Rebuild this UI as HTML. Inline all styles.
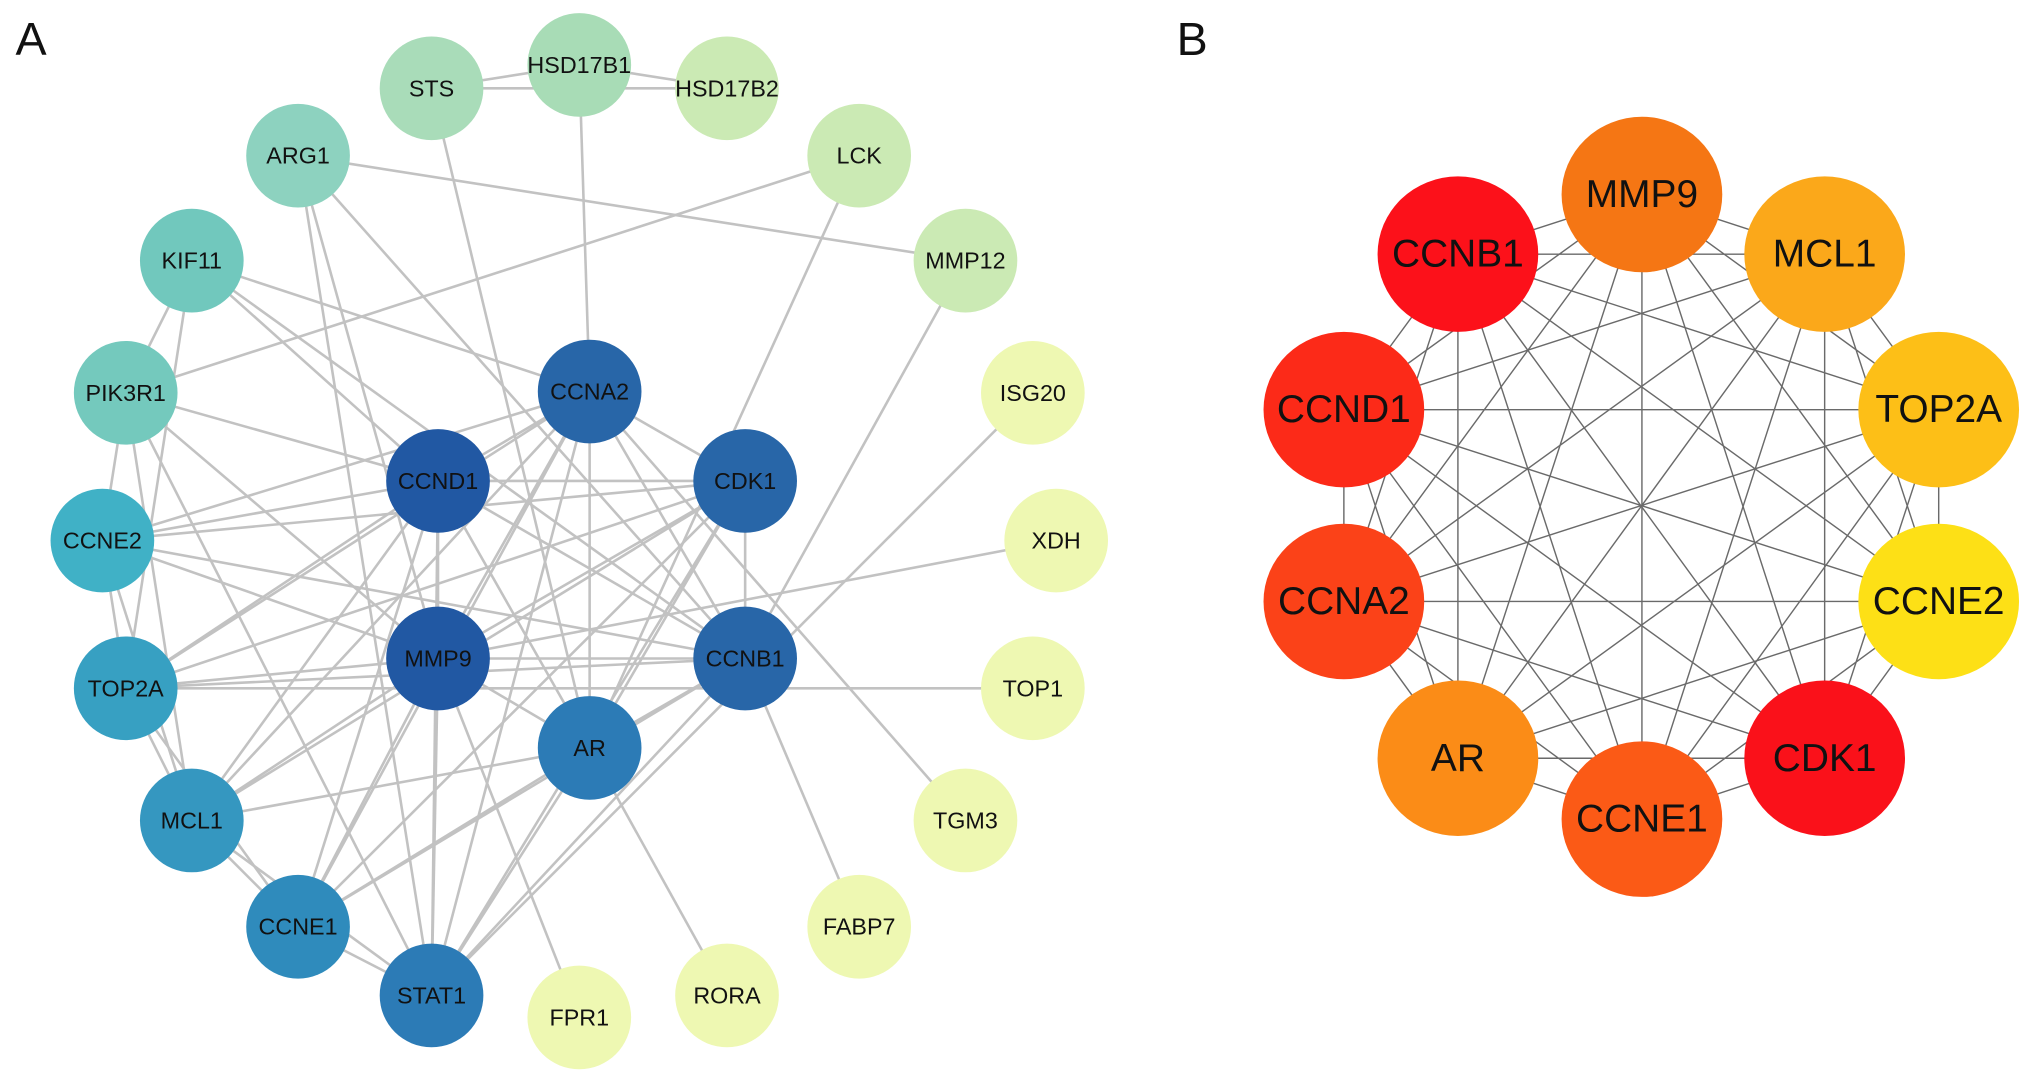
<!DOCTYPE html>
<html><head><meta charset="utf-8"><style>
html,body{margin:0;padding:0;background:#fff;}
svg{display:block;}
text{font-family:"Liberation Sans",Arial,sans-serif;text-anchor:middle;dominant-baseline:central;fill:#111;}
.a{font-size:18px;}
.b{font-size:30px;}
</style></head><body>
<svg id="s" width="2032" height="1085" viewBox="0 0 1568 837" xmlns="http://www.w3.org/2000/svg">
<rect width="1568" height="837" fill="#fff"/>
<g id="ea" stroke="#b8b8b8" stroke-width="2" opacity="0.85"></g>
<g id="eb" stroke="#6a6a6a" stroke-width="1.1"></g>
<g id="na"></g>
<g id="nb"></g>
<text x="24" y="30" style="font-size:36px">A</text>
<text x="920" y="30" style="font-size:36px">B</text>
<g class="a">
<text x="333" y="68">STS</text><text x="447" y="50">HSD17B1</text><text x="561" y="68">HSD17B2</text>
<text x="230" y="120">ARG1</text><text x="663" y="120">LCK</text><text x="148" y="201">KIF11</text>
<text x="745" y="201">MMP12</text><text x="97" y="303">PIK3R1</text><text x="797" y="303">ISG20</text>
<text x="79" y="417">CCNE2</text><text x="815" y="417">XDH</text><text x="97" y="531">TOP2A</text>
<text x="797" y="531">TOP1</text><text x="148" y="633">MCL1</text><text x="745" y="633">TGM3</text>
<text x="230" y="715">CCNE1</text><text x="663" y="715">FABP7</text><text x="333" y="768">STAT1</text>
<text x="447" y="785">FPR1</text><text x="561" y="768">RORA</text>
<text x="455" y="302">CCNA2</text><text x="338" y="371">CCND1</text><text x="575" y="371">CDK1</text>
<text x="338" y="508">MMP9</text><text x="575" y="508">CCNB1</text><text x="455" y="577">AR</text>
</g>
<g class="b">
<text x="1267" y="150">MMP9</text><text x="1408" y="196">MCL1</text><text x="1496" y="316">TOP2A</text>
<text x="1496" y="464">CCNE2</text><text x="1408" y="585">CDK1</text><text x="1267" y="632">CCNE1</text>
<text x="1125" y="585">AR</text><text x="1037" y="464">CCNA2</text><text x="1037" y="316">CCND1</text>
<text x="1125" y="196">CCNB1</text>
</g>
</svg>
<script>
var NS="http://www.w3.org/2000/svg";
var A={STS:[333,68,"#a9dcb9"],HSD17B1:[447,50,"#a8dcb6"],HSD17B2:[561,68,"#cbeab4"],ARG1:[230,120,"#8dd2bf"],LCK:[663,120,"#cbeab4"],KIF11:[148,201,"#71c8bd"],MMP12:[745,201,"#cbeab4"],PIK3R1:[97,303,"#74c9bd"],ISG20:[797,303,"#eef8b2"],CCNE2:[79,417,"#40b1c6"],XDH:[815,417,"#eef8b2"],TOP2A:[97,531,"#37a0c2"],TOP1:[797,531,"#eef8b2"],MCL1:[148,633,"#3597c0"],TGM3:[745,633,"#eef8b2"],CCNE1:[230,715,"#2f8bbc"],FABP7:[663,715,"#eef8b2"],STAT1:[333,768,"#2c7bb6"],FPR1:[447,785,"#eef8b2"],RORA:[561,768,"#eef8b2"],CCNA2:[455,302,"#2866a8"],CCND1:[338,371,"#2158a3"],CDK1:[575,371,"#2866a8"],MMP9:[338,508,"#2158a3"],CCNB1:[575,508,"#2866a8"],AR:[455,577,"#2c7bb6"]};
var EA="STS-HSD17B1 STS-HSD17B2 HSD17B1-HSD17B2 HSD17B1-CCNA2 STS-AR ARG1-MMP12 ARG1-CCNB1 ARG1-STAT1 ARG1-MMP9 LCK-PIK3R1 LCK-AR MMP12-CCNB1 KIF11-CCNA2 KIF11-CCNB1 KIF11-CCND1 KIF11-PIK3R1 KIF11-TOP2A PIK3R1-CCND1 PIK3R1-MMP9 PIK3R1-STAT1 PIK3R1-CCNE2 PIK3R1-MCL1 CCNE2-CCNA2 CCNE2-CCND1 CCNE2-CDK1 CCNE2-CCNB1 CCNE2-MMP9 CCNE2-TOP2A CCNE2-MCL1 TOP2A-CCND1 TOP2A-CCNA2 TOP2A-CCNB1 TOP2A-MMP9 TOP2A-CDK1 TOP2A-MCL1 TOP2A-CCNE1 TOP2A-TOP1 MCL1-CCND1 MCL1-CCNA2 MCL1-CDK1 MCL1-AR MCL1-CCNE1 MCL1-STAT1 MCL1-MMP9 CCNE1-CCND1 CCNE1-CCNA2 CCNE1-CDK1 CCNE1-CCNB1 CCNE1-MMP9 CCNE1-AR CCNE1-STAT1 STAT1-MMP9 STAT1-AR STAT1-CCNB1 STAT1-CDK1 STAT1-CCNA2 STAT1-CCND1 FPR1-MMP9 AR-RORA FABP7-CCNB1 TGM3-CCNA2 ISG20-STAT1 XDH-MMP9 CCNA2-CCND1 CCNA2-CDK1 CCNA2-MMP9 CCNA2-CCNB1 CCNA2-AR CCND1-CDK1 CCND1-MMP9 CCND1-CCNB1 CCND1-AR CDK1-MMP9 CDK1-CCNB1 CDK1-AR MMP9-CCNB1 MMP9-AR CCNB1-AR".split(" ");
function ln(g,a,b){var l=document.createElementNS(NS,"line");l.setAttribute("x1",a[0]);l.setAttribute("y1",a[1]);l.setAttribute("x2",b[0]);l.setAttribute("y2",b[1]);g.appendChild(l);}
var ea=document.getElementById("ea");
EA.forEach(function(e){var p=e.split("-");ln(ea,A[p[0]],A[p[1]]);});
var na=document.getElementById("na");
for(var k in A){var c=document.createElementNS(NS,"circle");c.setAttribute("cx",A[k][0]);c.setAttribute("cy",A[k][1]);c.setAttribute("r",40);c.setAttribute("fill",A[k][2]);na.appendChild(c);}
var B=[[1267,150,"#f57614"],[1408,196,"#fba81a"],[1496,316,"#fdbf17"],[1496,464,"#fde016"],[1408,585,"#fa111a"],[1267,632,"#fb5a16"],[1125,585,"#fb8c17"],[1037,464,"#fb4218"],[1037,316,"#fc2a18"],[1125,196,"#fc111a"]];
var eb=document.getElementById("eb");
for(var i=0;i<B.length;i++)for(var j=i+1;j<B.length;j++)ln(eb,B[i],B[j]);
var nb=document.getElementById("nb");
B.forEach(function(b){var e=document.createElementNS(NS,"ellipse");e.setAttribute("cx",b[0]);e.setAttribute("cy",b[1]);e.setAttribute("rx",62);e.setAttribute("ry",60);e.setAttribute("fill",b[2]);nb.appendChild(e);});
</script>
</body></html>
